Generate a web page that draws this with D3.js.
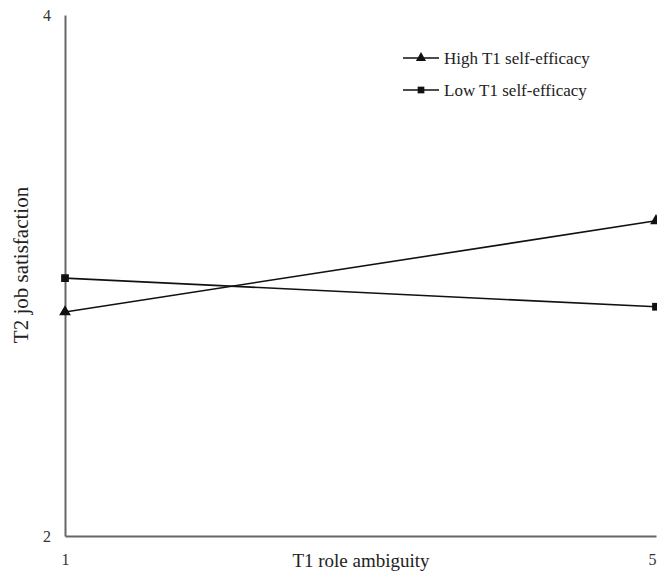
<!DOCTYPE html>
<html>
<head>
<meta charset="utf-8">
<script src="https://cdn.jsdelivr.net/npm/d3@7"></script>
<style>
  body { margin: 0; background: #fff; }
  svg { display: block; font-family: "Liberation Serif", "Times New Roman", serif; }
</style>
</head>
<body>
<svg id="chart"></svg>
<script>
let width = 657;
let height = 571;

let xTicks = [1, 5];
let yTicks = [2, 4];
let seriesNames = ['High T1 self-efficacy', 'Low T1 self-efficacy'];
let xValues = [1, 5];
let highValues = [2.86, 3.21];
let lowValues = [2.99, 2.88];

let svg = d3.select('#chart').attr('width', width).attr('height', height);

let xScale = d3.scaleLinear().domain([1, 5]).range([65, 656]);
let yScale = d3.scaleLinear().domain([2, 4]).range([536, 15]);

// axes, no tick marks
let xAxis = d3.axisBottom(xScale).tickValues(xTicks).tickFormat(d3.format('d')).tickSize(0).tickPadding(18);
let yAxis = d3.axisLeft(yScale).tickValues(yTicks).tickFormat(d3.format('d')).tickSize(0).tickPadding(14);

let gx = svg.append('g')
  .attr('transform', 'translate(0,' + yScale(2) + ')')
  .call(xAxis);
let gy = svg.append('g')
  .attr('transform', 'translate(' + xScale(1) + ',0)')
  .call(yAxis);

[gx, gy].forEach(g => {
  g.select('.domain').attr('stroke', '#666').attr('stroke-width', 2);
  g.selectAll('text').attr('font-size', 16).attr('fill', '#333')
    .attr('font-family', '"Liberation Serif", serif');
});
gy.selectAll('text').attr('dy', '0.32em');
// last x label sits at the right edge
gx.selectAll('.tick').filter(d => d === 5).select('text').attr('text-anchor', 'end');

svg.append('text')
  .attr('x', 361).attr('y', 567)
  .attr('text-anchor', 'middle')
  .attr('font-size', 19).attr('fill', '#222')
  .text('T1 role ambiguity');

svg.append('text')
  .attr('transform', 'translate(28,' + 265 + ') rotate(-90)')
  .attr('text-anchor', 'middle')
  .attr('font-size', 21).attr('fill', '#222')
  .text('T2 job satisfaction');

let line = d3.line().x(d => xScale(d[0])).y(d => yScale(d[1]));

let series = [
  { name: seriesNames[0], values: highValues, marker: d3.symbolTriangle },
  { name: seriesNames[1], values: lowValues, marker: d3.symbolSquare }
];

series.forEach(s => {
  let pts = xValues.map((x, i) => [x, s.values[i]]);
  svg.append('path')
    .attr('d', line(pts))
    .attr('fill', 'none')
    .attr('stroke', '#111')
    .attr('stroke-width', 1.6);
  svg.selectAll(null).data(pts).enter().append('path')
    .attr('d', d3.symbol().type(s.marker).size(60))
    .attr('transform', d => 'translate(' + xScale(d[0]) + ',' + yScale(d[1]) + ')')
    .attr('fill', '#111');
});

// legend
let legend = svg.append('g').attr('transform', 'translate(403,58)');
series.forEach((s, i) => {
  let g = legend.append('g').attr('transform', 'translate(0,' + (i * 32) + ')');
  g.append('line').attr('x1', 0).attr('x2', 36).attr('y1', 0).attr('y2', 0)
    .attr('stroke', '#111').attr('stroke-width', 1.6);
  g.append('path')
    .attr('d', d3.symbol().type(s.marker).size(45))
    .attr('transform', 'translate(18,0)')
    .attr('fill', '#111');
  g.append('text')
    .attr('x', 41).attr('y', 0).attr('dy', '0.35em')
    .attr('font-size', 17).attr('fill', '#222')
    .text(s.name);
});
</script>
</body>
</html>
